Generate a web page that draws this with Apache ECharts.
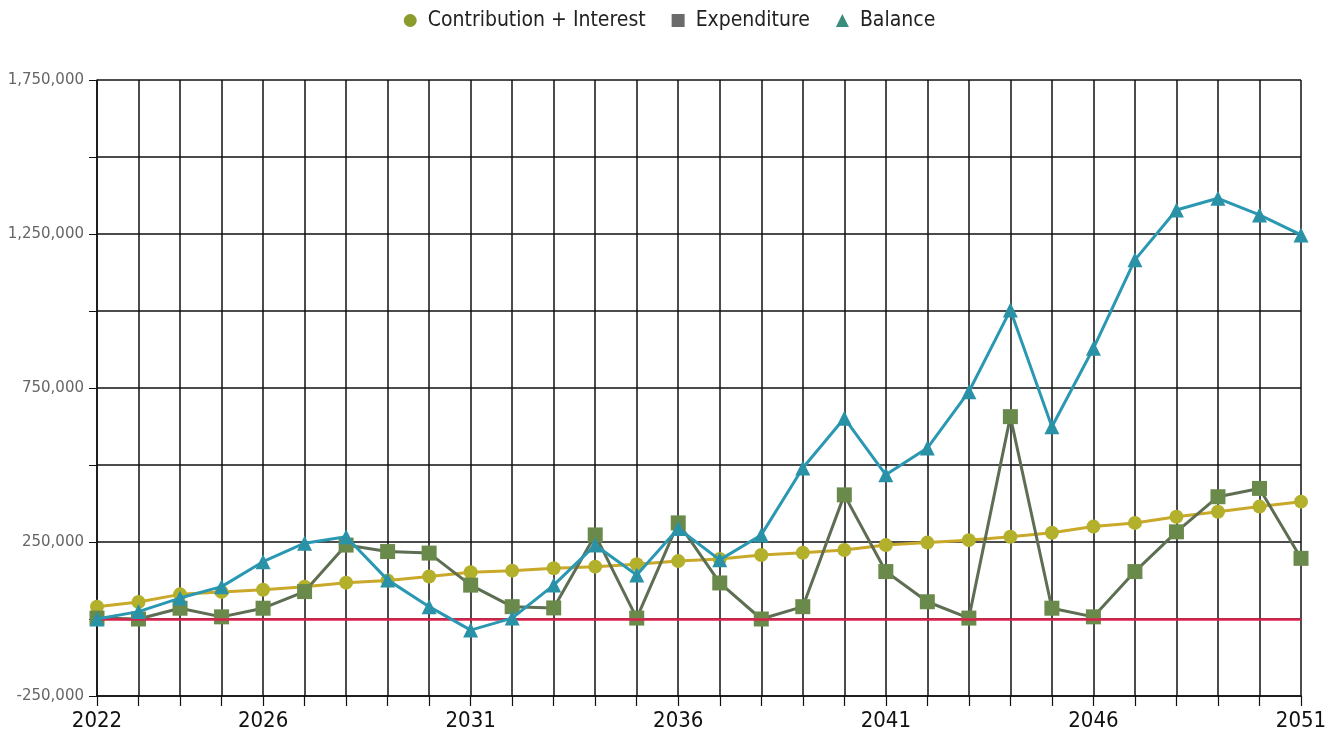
<!DOCTYPE html>
<html><head><meta charset="utf-8">
<script src="https://cdn.jsdelivr.net/npm/echarts@6/dist/echarts.min.js"></script>
<style>html,body{margin:0;padding:0;background:#fff}#c{width:1339px;height:742px}</style>
</head><body><div id="c"></div>
<script>
const years = ['2022','2023','2024','2025','2026','2027','2028','2029','2030','2031','2032','2033','2034','2035','2036','2037','2038','2039','2040','2041','2042','2043','2044','2045','2046','2047','2048','2049','2050','2051'];
const shownYears = ['2022','2026','2031','2036','2041','2046','2051'];
const contribution = [40000,55000,80000,88000,95000,105000,118000,125000,138000,152000,157000,165000,170000,178000,188000,195000,208000,215000,224000,240000,248000,256000,267000,280000,300000,312000,332000,348000,365000,381000];
const expenditure = [3000,0,35000,7000,35000,89000,240000,219000,214000,110000,40000,36000,273000,3000,312000,117000,0,40000,403000,154000,56000,3000,657000,35000,7000,154000,283000,397000,424000,197000];
const balance = [0,24000,68000,105000,186000,246000,267000,127000,40000,-36000,3000,110000,240000,143000,294000,192000,273000,490000,652000,468000,555000,738000,1003000,624000,879000,1166000,1328000,1366000,1312000,1247000];
const yMin = -250000, yMax = 1750000, yStep = 250000;

const narrow = "'Liberation Sans Narrow','DejaVu Sans Condensed','Liberation Sans',sans-serif";
const chart = echarts.init(document.getElementById('c'), null, {renderer:'canvas'});
chart.setOption({
  backgroundColor: '#ffffff',
  animation: false,
  legend: {
    top: 5, left: 'center', itemGap: 26, itemWidth: 13, itemHeight: 13,
    textStyle: {fontFamily: narrow, fontSize: 21, color: '#222', padding: [0, 0, 0, 6]},
    data: [
      {name:'Contribution + Interest', icon:'circle', itemStyle:{color:'#8b9b2c'}},
      {name:'Expenditure', icon:'rect', itemStyle:{color:'#6b6b6b'}},
      {name:'Balance', icon:'triangle', itemStyle:{color:'#3a8c7c'}}
    ]
  },
  grid: {left: 97, right: 38, top: 80, bottom: 46, containLabel: false},
  xAxis: {
    type: 'category', data: years, boundaryGap: false,
    axisLine: {onZero: false, lineStyle: {color: '#111', width: 1.5}},
    axisTick: {show: true, interval: 0, length: 10, lineStyle: {color: '#111', width: 1.2}},
    axisLabel: {
      interval: (i, v) => shownYears.includes(v),
      fontFamily: narrow, fontSize: 22, color: '#111', margin: 14
    },
    splitLine: {show: true, interval: 0, lineStyle: {color: '#111', width: 1.5}}
  },
  yAxis: {
    type: 'value', min: yMin, max: yMax, interval: yStep,
    axisLine: {show: true, lineStyle: {color: '#111', width: 1.5}},
    axisTick: {show: true, length: 8, lineStyle: {color: '#111'}},
    axisLabel: {
      fontFamily: "'DejaVu Sans',sans-serif", fontSize: 15, color: '#666', margin: 13,
      formatter: v => ((v - yMin) % (2 * yStep) === 0) ? v.toLocaleString('en-US') : ''
    },
    splitLine: {show: true, lineStyle: {color: '#111', width: 1.5}}
  },
  series: [
    {
      name: 'Contribution + Interest', type: 'line', data: contribution,
      symbol: 'circle', symbolSize: 14,
      lineStyle: {color: '#c9a82a', width: 3},
      itemStyle: {color: '#b3b02c'},
      z: 3,
      markLine: {
        silent: true, symbol: 'none', label: {show: false},
        lineStyle: {color: '#d8224c', width: 2.5, type: 'solid'},
        data: [{yAxis: 0}]
      }
    },
    {
      name: 'Expenditure', type: 'line', data: expenditure,
      symbol: 'rect', symbolSize: 15,
      lineStyle: {color: '#5d6e52', width: 3},
      itemStyle: {color: '#6a8a4c'},
      z: 4
    },
    {
      name: 'Balance', type: 'line', data: balance,
      symbol: 'triangle', symbolSize: 15,
      lineStyle: {color: '#2a98b2', width: 3},
      itemStyle: {color: '#2a92a6'},
      z: 5
    }
  ]
});
</script></body></html>
